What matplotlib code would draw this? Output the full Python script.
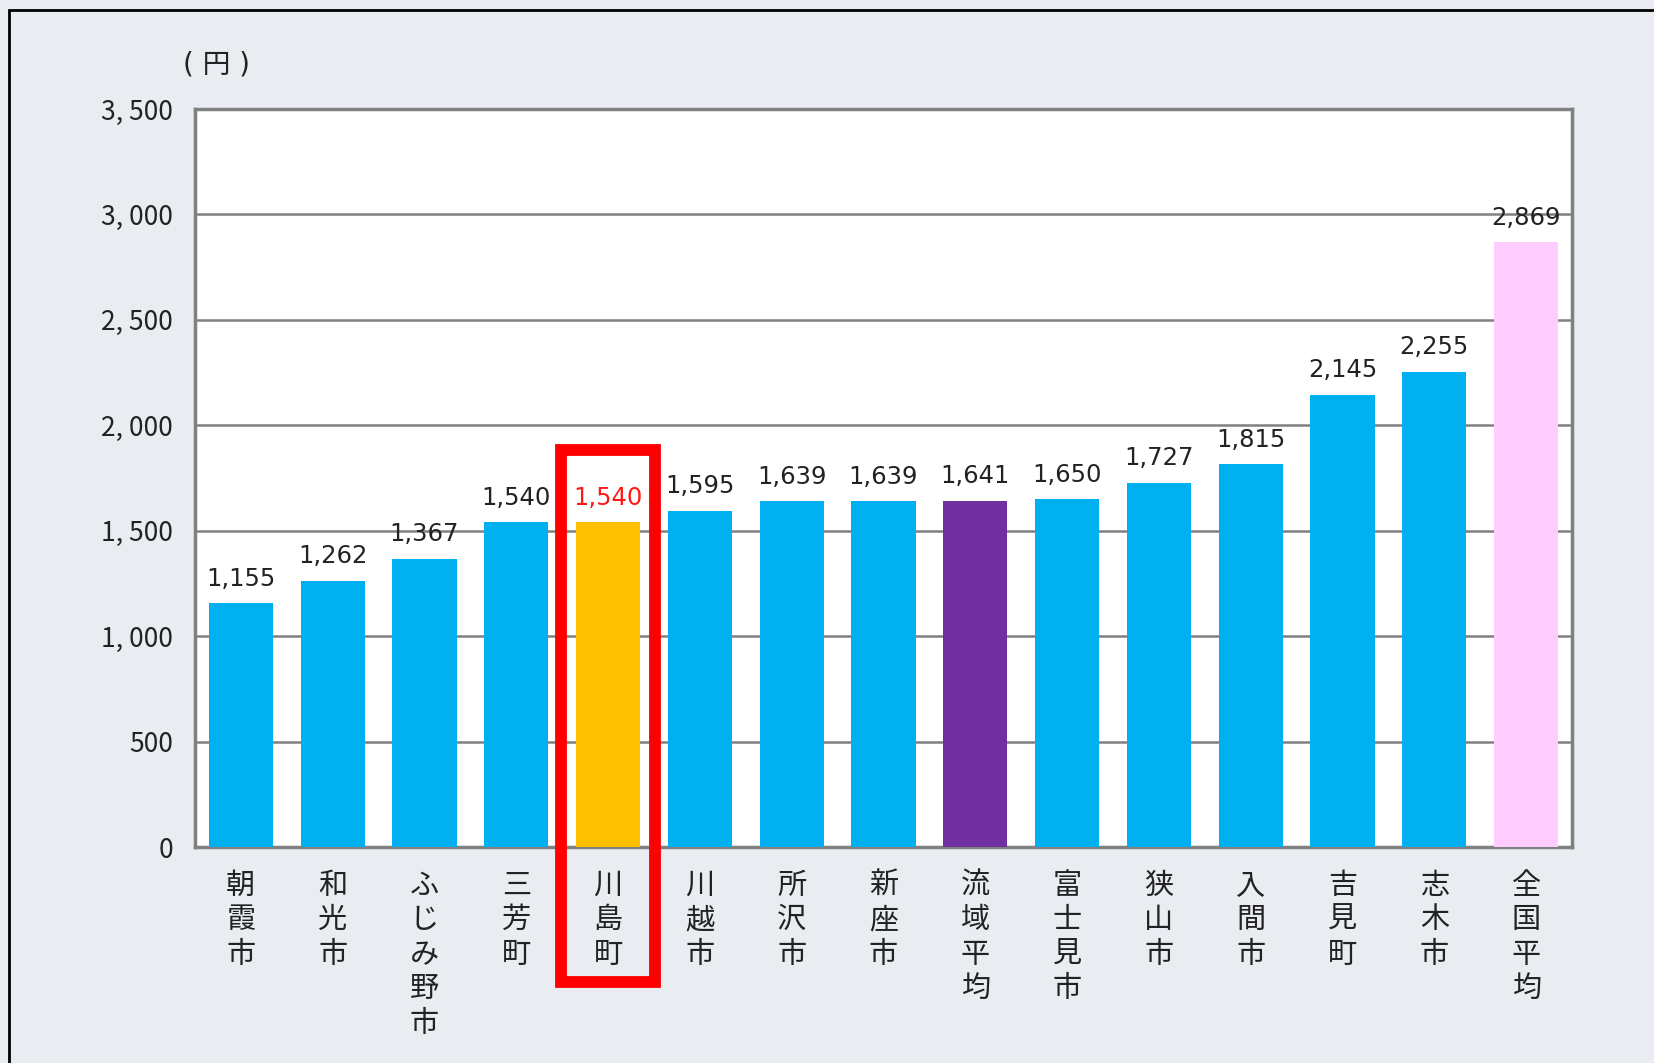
import matplotlib
matplotlib.use("Agg")
import matplotlib.pyplot as plt
from matplotlib.patches import Rectangle

plt.rcParams['font.family'] = ['Noto Sans CJK JP', 'DejaVu Sans']

categories = ["朝霞市", "和光市", "ふじみ野市", "三芳町", "川島町", "川越市", "所沢市", "新座市",
              "流域平均", "富士見市", "狭山市", "入間市", "吉見町", "志木市", "全国平均"]
values = [1155, 1262, 1367, 1540, 1540, 1595, 1639, 1639, 1641, 1650, 1727, 1815, 2145, 2255, 2869]
colors = ["#00B0F0"] * 4 + ["#FFC000"] + ["#00B0F0"] * 3 + ["#7030A0"] + ["#00B0F0"] * 5 + ["#FFCCFF"]
highlight = 4
yticks = [0, 500, 1000, 1500, 2000, 2500, 3000, 3500]
ytick_labels = ["0", "500", "1, 000", "1, 500", "2, 000", "2, 500", "3, 000", "3, 500"]
unit_label = "( 円 )"

W, H = 1654, 1063
fig = plt.figure(figsize=(W / 100, H / 100), dpi=100)
fig.patch.set_facecolor("#E9ECF1")
fig.add_artist(Rectangle((9 / W, -0.05), 1.2, 1 - 10 / H + 0.05, transform=fig.transFigure,
                         fill=False, edgecolor="black", linewidth=2))

ax = fig.add_axes([195 / W, 1 - 847 / H, (1572 - 195) / W, (847 - 109) / H])
ax.set_facecolor("white")
x = list(range(len(categories)))
ax.bar(x, values, width=0.70, color=colors, zorder=3)
ax.set_xlim(-0.5, len(categories) - 0.5)
ax.set_ylim(0, 3500)
ax.set_yticks(yticks)
ax.set_yticklabels(ytick_labels, fontsize=19, color="#222222")
ax.tick_params(axis='y', length=0, pad=16)
ax.set_xticks([])
for yv in yticks[1:-1]:
    ax.axhline(yv, color="#808080", linewidth=1.8, zorder=1)
for s in ax.spines.values():
    s.set_color("#808080")
    s.set_linewidth(2.5)

for i, (c, v) in enumerate(zip(categories, values)):
    col = "#FF1A1A" if i == highlight else "#222222"
    ax.annotate(f"{v:,}", (i, v), xytext=(0, 9), textcoords="offset points",
                ha="center", va="bottom", fontsize=17.5, color=col, zorder=5,
                family="DejaVu Sans")
    ax.annotate("\n".join(c), (i, 0), xytext=(0, -17), textcoords="offset points",
                ha="center", va="top", fontsize=21, color="#222222", linespacing=1.2,
                annotation_clip=False)

rect = Rectangle((highlight - 0.51, -640), 1.02, 1883 + 640, fill=False,
                 edgecolor="#FF0000", linewidth=8.5, clip_on=False, zorder=6)
ax.add_patch(rect)

fig.text(216 / W, 1 - 65 / H, unit_label, fontsize=20, ha="center", va="center", color="#222222",
         family=["DejaVu Sans", "Noto Sans CJK JP"])

fig.savefig("out.png", dpi=100, facecolor=fig.get_facecolor())
